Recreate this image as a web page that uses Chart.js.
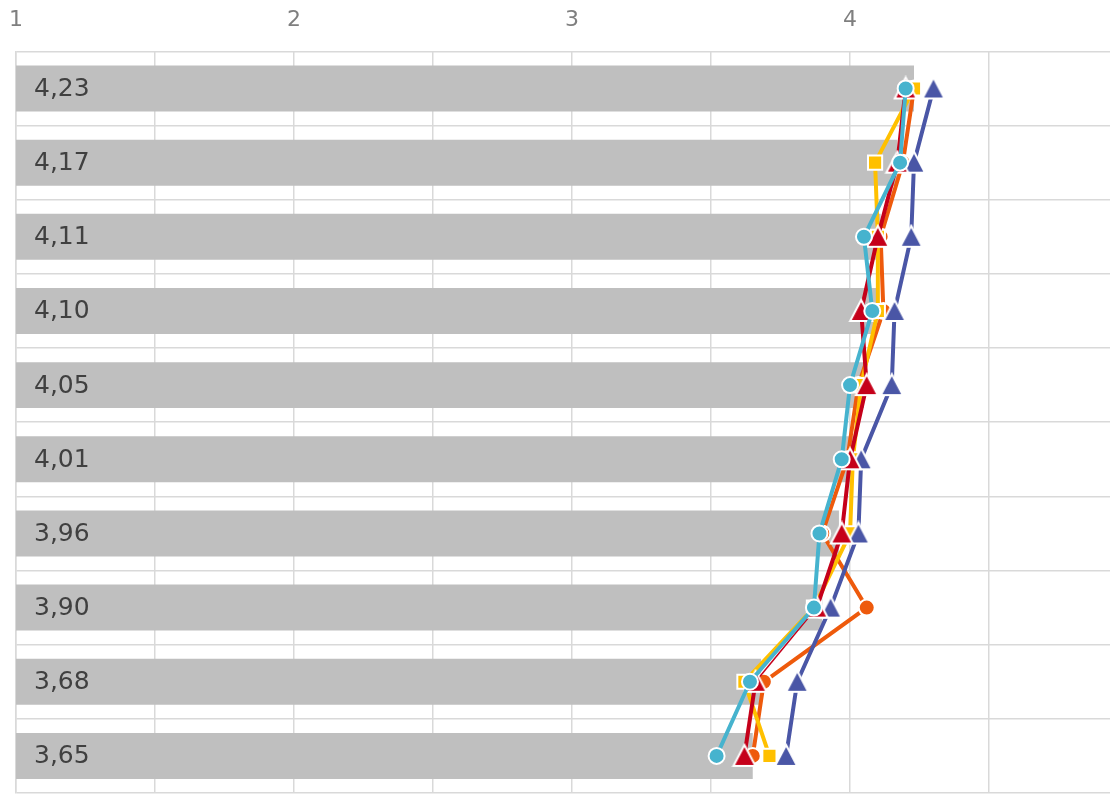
<!DOCTYPE html>
<html>
<head>
<meta charset="utf-8">
<script src="https://cdn.jsdelivr.net/npm/chart.js@4"></script>
<style>
  html, body { margin: 0; padding: 0; background: #fff; overflow: hidden; }
  #myChart { display: block; }
</style>
</head>
<body>
<canvas id="myChart" width="1110" height="794"></canvas>
<script>
// category labels (shown inside the bars) and bar values
const categories = ['4,23', '4,17', '4,11', '4,10', '4,05', '4,01', '3,96', '3,90', '3,68', '3,65'];
const barValues = [4.23, 4.17, 4.11, 4.10, 4.05, 4.01, 3.96, 3.90, 3.68, 3.65];

// line series
const orangeValues = [4.23, 4.19, 4.11, 4.12, 4.03, 3.99, 3.90, 4.06, 3.69, 3.65];
const yellowValues = [4.23, 4.09, 4.10, 4.10, 4.04, 4.01, 4.00, 3.87, 3.62, 3.71];
const blueValues   = [4.30, 4.23, 4.22, 4.16, 4.15, 4.04, 4.03, 3.93, 3.81, 3.77];
const redValues    = [4.20, 4.17, 4.10, 4.04, 4.06, 4.00, 3.97, 3.88, 3.66, 3.62];
const tealValues   = [4.20, 4.18, 4.05, 4.08, 4.00, 3.97, 3.89, 3.87, 3.64, 3.52];

// axis ticks
const xMin = 1;
const xMax = 4.935;
const xStep = 0.5;

// triangle marker centred on its box (chart.js centres on the centroid)
function triangleMarker(color) {
    const c = document.createElement('canvas');
    c.width = 26;
    c.height = 26;
    const g = c.getContext('2d');
    g.beginPath();
    g.moveTo(13, 2);
    g.lineTo(24, 23);
    g.lineTo(2, 23);
    g.closePath();
    g.fillStyle = color;
    g.fill();
    g.lineWidth = 2;
    g.strokeStyle = '#fff';
    g.lineJoin = 'miter';
    g.stroke();
    return c;
}

// draws the category labels on top of the bars
const barLabels = {
    id: 'barLabels',
    afterDatasetsDraw(chart) {
        const ctx = chart.ctx;
        const yScale = chart.scales.y;
        ctx.save();
        ctx.font = '25px "DejaVu Sans"';
        ctx.fillStyle = '#404040';
        ctx.textAlign = 'left';
        ctx.textBaseline = 'middle';
        categories.forEach((label, i) => {
            ctx.fillText(label, chart.chartArea.left + 18, yScale.getPixelForValue(i) + 1);
        });
        ctx.restore();
    }
};

window.addEventListener('DOMContentLoaded', () => {
    const lineSeries = (values, color, style, radius, order) => ({
        type: 'line',
        data: values,
        borderColor: color,
        backgroundColor: color,
        borderWidth: 4,
        tension: 0,
        pointStyle: style,
        pointRadius: radius,
        pointBorderColor: '#fff',
        pointBorderWidth: 2,
        pointBackgroundColor: color,
        order: order
    });

    const red = lineSeries(redValues, '#C5001A', triangleMarker('#C5001A'), 12, 2);
    red.segment = { borderWidth: ctx => ctx.p0DataIndex === 7 ? 1.5 : 4 };

    const data = {
        labels: categories,
        datasets: [
            {
                type: 'bar',
                data: barValues,
                backgroundColor: '#BFBFBF',
                borderWidth: 0,
                categoryPercentage: 1,
                barPercentage: 0.62,
                order: 10
            },
            lineSeries(orangeValues, '#EE5A0C', 'circle', 8, 6),
            lineSeries(yellowValues, '#FFC000', 'rect', 10, 5),
            lineSeries(blueValues, '#4A56A6', triangleMarker('#4A56A6'), 12, 4),
            red,
            lineSeries(tealValues, '#46B3CE', 'circle', 8, 1)
        ]
    };

    const options = {
        indexAxis: 'y',
        responsive: false,
        animation: false,
        layout: {
            autoPadding: false,
            padding: { left: 16, top: -11, right: 0, bottom: 1 }
        },
        scales: {
            x: {
                position: 'top',
                min: xMin,
                max: xMax,
                afterBuildTicks: scale => {
                    scale.ticks = scale.ticks.filter(t => Math.abs(t.value / xStep - Math.round(t.value / xStep)) < 1e-6);
                },
                afterFit: scale => {
                    scale.paddingLeft = 0;
                    scale.paddingRight = 0;
                },
                ticks: {
                    stepSize: xStep,
                    padding: 18,
                    color: '#7F7F7F',
                    font: { family: 'DejaVu Sans', size: 22 },
                    callback: v => Number.isInteger(v) ? String(v) : ''
                },
                grid: {
                    color: '#D9D9D9',
                    lineWidth: 1.5,
                    drawTicks: false
                },
                border: { display: false }
            },
            y: {
                offset: true,
                ticks: { display: false },
                grid: {
                    offset: true,
                    color: '#D9D9D9',
                    lineWidth: 1.5,
                    drawTicks: false
                },
                border: { display: true, color: '#D9D9D9', width: 1.5 }
            }
        },
        plugins: {
            legend: { display: false },
            tooltip: { enabled: false }
        }
    };

    new Chart(document.getElementById('myChart'), {
        type: 'bar',
        data: data,
        options: options,
        plugins: [barLabels]
    });
});
</script>
</body>
</html>
